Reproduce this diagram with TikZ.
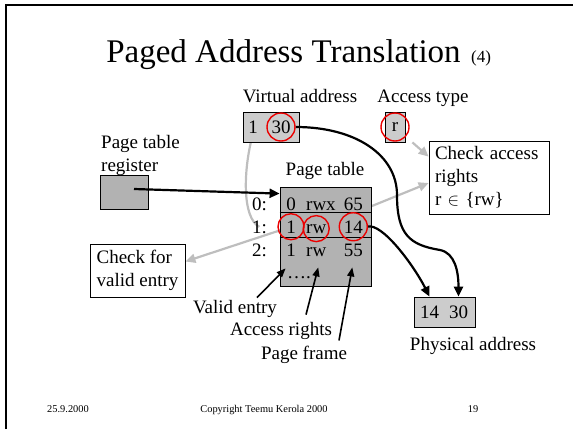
\documentclass[tikz,border=0pt]{standalone}
\usepackage{fontspec}
\setmainfont{Liberation Serif}
\usetikzlibrary{arrows.meta, positioning, calc, backgrounds}
\definecolor{cellgray}{RGB}{204,204,204}
\definecolor{tablegray}{RGB}{178,178,178}
\definecolor{linegray}{RGB}{190,190,190}
\definecolor{ringred}{RGB}{235,0,0}

\begin{document}
\begin{tikzpicture}[
    x=1pt, y=-1pt,
    every node/.style={inner sep=0pt, font=\fontsize{19}{23}\selectfont},
    cell/.style={rectangle, draw=black, line width=0.8pt, fill=cellgray},
    darkcell/.style={rectangle, draw=black, line width=0.8pt, fill=tablegray},
    note/.style={rectangle, draw=black, line width=0.8pt, fill=white, align=left, inner xsep=6pt},
    ring/.style={draw=ringred, line width=1.4pt},
    blackarrow/.style={line width=2.2pt, -{Triangle[length=10pt,width=9pt]}},
    greyarrow/.style={draw=linegray, line width=2.2pt, -{Triangle[length=10pt,width=9pt]}},
    greyline/.style={draw=linegray, line width=2.2pt},
    pointer/.style={line width=1.6pt, -{Triangle[length=9pt,width=7pt]}}
]
    \useasboundingbox (0,0) rectangle (573,429);
    % slide frame and title
    \draw[line width=2.4pt] (6,429) -- (6,5) -- (573,5);
    \node[anchor=base, font=\fontsize{33}{36}\selectfont] (title) at (283.5,62) {Paged Address Translation};
    \node[anchor=base west, font=\fontsize{17}{20}\selectfont] (part) at ($(title.base east)+(10,0)$) {(4)};

    % virtual address and access type
    \node[anchor=base] (vlabel) at (300,102) {Virtual address};
    \node[cell, minimum width=56pt, minimum height=30pt] (vaddr) at (271,127) {};
    \node (vpage) at (253,127) {1};
    \node (voff) at (281,127) {30};
    \node[anchor=base] (alabel) at (423,102) {Access type};
    \node[cell, minimum width=20pt, minimum height=30pt] (acctype) at (395,127) {r};

    % page table register
    \node[anchor=north west, align=left] (ptrlabel) at (101,135) {Page table\\register};
    \node[darkcell, minimum width=48pt, minimum height=34pt] (ptreg) at (124,192) {};

    % page table
    \node[anchor=base] (ptlabel) at (325,175) {Page table};
    \node[darkcell, minimum width=91pt, minimum height=99pt] (ptable) at (325.5,236.5) {};
    \foreach \dy in {26,51}
        \draw[line width=0.8pt] ($(ptable.north west)+(0,\dy)$) -- ($(ptable.north east)+(0,\dy)$);
    \node[anchor=base east] (lbl0) at (267,210) {0:};
    \node[anchor=base east] (lbl1) at (267,233) {1:};
    \node[anchor=base east] (lbl2) at (267,256) {2:};
    \node[anchor=base] (valid0) at (291,210) {0};
    \node[anchor=base] (valid1) at (291,233) {1};
    \node[anchor=base] (valid2) at (291,256) {1};
    \node[anchor=base west] (rights0) at (306,210) {rwx};
    \node[anchor=base west] (rights1) at (306,233) {rw};
    \node[anchor=base west] (rights2) at (306,256) {rw};
    \node[anchor=base east] (frame0) at (363,210) {65};
    \node[anchor=base east] (frame1) at (363,233) {14};
    \node[anchor=base east] (frame2) at (363,256) {55};
    \node[anchor=base west] (more) at (287,278) {….};

    % checks
    \node[note, text width=108pt, minimum height=73pt] (accchk) at (489,177.5) {Check access\\rights\\r $\in$ \{rw\}};
    \node[note, minimum width=95pt, minimum height=53pt] (validchk) at (137.5,270.5) {Check for\\valid entry};

    % physical address
    \node[cell, minimum width=61pt, minimum height=30pt] (pabox) at (444.5,312) {};
    \node[anchor=base] (pa14) at (429.5,318) {14};
    \node[anchor=base] (pa30) at (458.5,318) {30};
    \node[anchor=base] (palabel) at (473,350) {Physical address};

    % field names under the table
    \node[anchor=base] (validlbl) at (235,313) {Valid entry};
    \node[anchor=base] (rightslbl) at (281,335) {Access rights};
    \node[anchor=base] (framelbl) at (304,359) {Page frame};

    % footer
    \node[anchor=base, font=\fontsize{10.4}{12}\selectfont] (date) at (68,412) {25.9.2000};
    \node[anchor=base, font=\fontsize{10.4}{12}\selectfont] (copy) at (264,412) {Copyright Teemu Kerola 2000};
    \node[anchor=base, font=\fontsize{10.4}{12}\selectfont] (page) at (473,412) {19};

    % grey checks run behind the boxes
    \begin{scope}[on background layer]
        \draw[greyline] (vpage.south) .. controls (243,170) and (242,218) .. (lbl1.center);
        \draw[greyarrow] (valid1.center) -- ([yshift=9pt]validchk.east);
        \draw[greyarrow] (rights1.center) -- ([yshift=-5.5pt]accchk.west);
        \draw[greyarrow] ([xshift=7pt]acctype.south east) -- ([yshift=-16pt]accchk.north west);
    \end{scope}

    % translation paths
    \draw[blackarrow] ($(ptreg.center)+(10,-3)$) -- ([yshift=-7pt]ptable.north west);
    \draw[blackarrow] ([xshift=5pt]voff.east) .. controls +(60,0) and +(0,-40) .. (397,195)
        .. controls +(0,40) and +(-30,-5) .. (440,250)
        .. controls +(15,3) and +(0,-25) .. (pa30 |- pabox.north);
    \draw[blackarrow] ([xshift=4pt]frame1.east) .. controls +(15,-5) and +(-15,-30) .. (pa14 |- pabox.north);

    \draw[pointer] ($(validlbl.north)+(22,-2)$) -- ($(ptable.south west)+(6,-18)$);
    \draw[pointer] ($(rightslbl.north)+(25,-7)$) -- ($(rights2.south)+(2,11)$);
    \draw[pointer] ($(framelbl.north)+(35,-5)$) -- ($(frame2.south)+(-1,11)$);

    % selected fields
    \draw[ring] (voff.center) circle[radius=14pt];
    \draw[ring] (acctype.center) circle[radius=14pt];
    \draw[ring] (valid1.center) circle[radius=13pt];
    \draw[ring] (rights1.center) circle[radius=13pt];
    \draw[ring] (frame1.center) circle[radius=14pt];
\end{tikzpicture}
\end{document}
